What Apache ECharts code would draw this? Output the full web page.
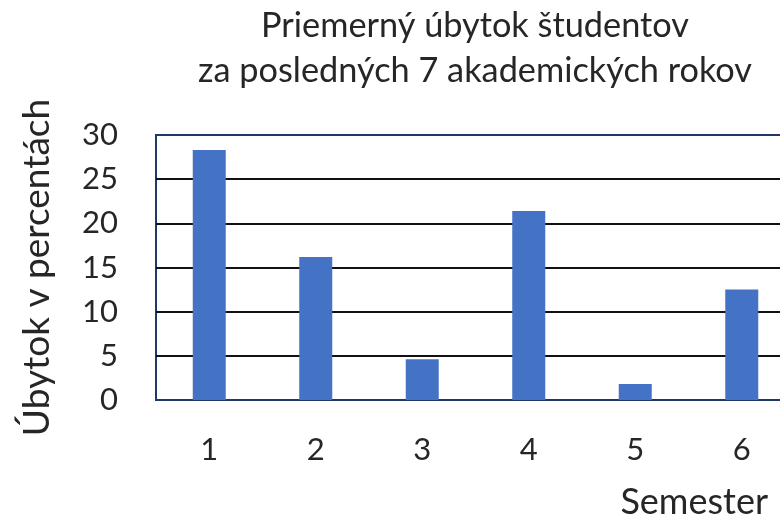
<!DOCTYPE html>
<html>
<head>
<meta charset="utf-8">
<script src="https://cdn.jsdelivr.net/npm/echarts@6/dist/echarts.min.js"></script>
<style>html,body{margin:0;padding:0;background:#fff;overflow:hidden;width:780px;height:521px;}#chart{width:795px;height:521px;}</style>
</head>
<body>
<div id="chart"></div>
<script>
var titleLines = ['Priemerný úbytok študentov', 'za posledných 7 akademických rokov'];
var xAxisTitle = 'Semester';
var yAxisTitle = 'Úbytok v percentách';
var categories = ['1', '2', '3', '4', '5', '6'];
var values = [28.3, 16.2, 4.6, 21.4, 1.8, 12.5];
var yMin = 0, yMax = 30, yStep = 5;

var FONT = 'Lato';
var TXT = '#262626';
var chart = echarts.init(document.getElementById('chart'), null, {renderer: 'canvas'});
chart.setOption({
  animation: false,
  backgroundColor: '#ffffff',
  grid: {left: 156, top: 135, right: 0, bottom: 121, show: true, borderColor: '#203864', borderWidth: 2, backgroundColor: 'transparent'},
  graphic: [
    {type: 'text', x: 475, y: 26, style: {text: titleLines[0], fill: TXT, font: '34.3px ' + FONT, textAlign: 'center', textVerticalAlign: 'middle'}},
    {type: 'text', x: 475, y: 71, style: {text: titleLines[1], fill: TXT, font: '34.3px ' + FONT, textAlign: 'center', textVerticalAlign: 'middle'}},
    {type: 'text', x: 768, y: 502, style: {text: xAxisTitle, fill: TXT, font: '36px ' + FONT, textAlign: 'right', textVerticalAlign: 'middle'}}
  ],
  xAxis: {
    type: 'category', data: categories,
    axisLine: {show: false}, axisTick: {show: false},
    axisLabel: {color: TXT, fontFamily: FONT, fontSize: 31, margin: 34}
  },
  yAxis: {
    type: 'value', min: yMin, max: yMax, interval: yStep,
    name: yAxisTitle, nameLocation: 'middle', nameRotate: 90, nameGap: 100,
    nameTextStyle: {color: TXT, fontFamily: FONT, fontSize: 37},
    axisLine: {show: false}, axisTick: {show: false},
    axisLabel: {color: TXT, fontFamily: FONT, fontSize: 31, margin: 38},
    splitLine: {show: true, showMinLine: false, showMaxLine: false, lineStyle: {color: '#111111', width: 2}}
  },
  series: [{
    type: 'bar', data: values, barWidth: 33,
    itemStyle: {color: '#4472C4'}
  }]
});
</script>
</body>
</html>
